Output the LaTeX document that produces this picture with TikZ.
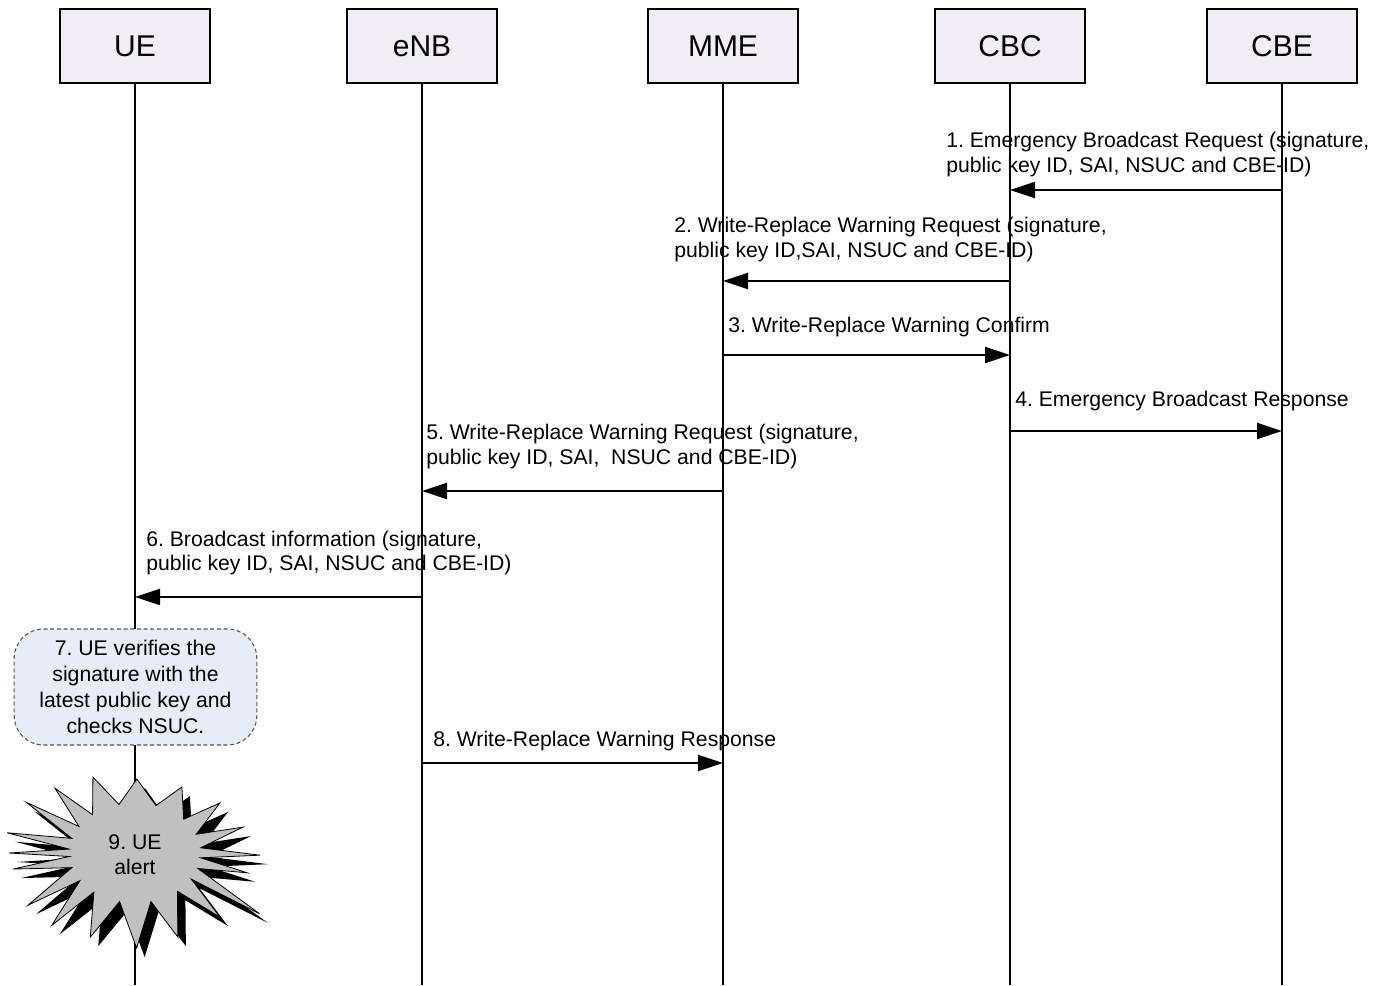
\documentclass[tikz,border=0pt]{standalone}
\usepackage{fontspec}
\setmainfont{Liberation Sans}
\usetikzlibrary{arrows.meta}
\definecolor{boxfill}{RGB}{240,238,244}
\definecolor{notefill}{RGB}{230,237,248}
\definecolor{notedraw}{RGB}{85,85,85}
\definecolor{burstgray}{RGB}{192,192,192}
\frenchspacing
\begin{document}
\begin{tikzpicture}[x=0.75pt,y=-0.75pt,
  entity/.style={draw=black, fill=boxfill, line width=1.5pt, minimum width=112.5pt,
    minimum height=55.5pt, inner sep=0pt, font=\fontsize{22.5}{27}\selectfont},
  life/.style={line width=1.5pt},
  msg/.style={line width=1.5pt, -{Triangle[length=18.75pt,width=12pt]}},
  lbl/.style={anchor=base west, inner sep=0pt, font=\fontsize{15.9}{19}\selectfont},
  note/.style={draw=notedraw, dash pattern=on 3pt off 2pt, line width=0.8pt, fill=notefill,
    rounded corners=22pt, minimum width=182pt, minimum height=87pt, inner sep=0pt,
    align=center, font=\fontsize{15.9}{19.3}\selectfont},
  burst/.pic={
    \begin{scope}[yscale=-1]
    \path[pic actions]
      (88.5:74) -- (104:66 and 50) -- (119:86.8) -- (130:66 and 50) -- (141:103)
      -- (148:66 and 50) -- (155:120) -- (163:66 and 50) -- (171:129.5)
      -- (175.5:66 and 50) -- (180:126) -- (184:66 and 50) -- (187.5:123)
      -- (197:66 and 50) -- (206:119) -- (213.5:66 and 50) -- (221:110.5)
      -- (231.5:66 and 50) -- (242:95.3) -- (256.5:66 and 50) -- (271:95)
      -- (284:66 and 50) -- (297:94.4) -- (310:66 and 50) -- (323:106.4)
      -- (328.5:66 and 50) -- (334:138.7) -- (342:66 and 50) -- (350:113.8)
      -- (354.5:66 and 50) -- (359:125) -- (6:66 and 50) -- (13.5:111)
      -- (22:66 and 50) -- (30.5:98.6) -- (42.5:66 and 50) -- (54.6:81)
      -- (71.5:66 and 50) -- cycle;
    \end{scope}
  }]
\useasboundingbox (0,0) rectangle (1387,985);
\fill[white] (0,0) rectangle (1387,985);

% entities
\node[entity] (UE)  at (135,46)  {UE};
\node[entity] (eNB) at (422,46)  {eNB};
\node[entity] (MME) at (723,46)  {MME};
\node[entity] (CBC) at (1010,46) {CBC};
\node[entity] (CBE) at (1282,46) {CBE};

\coordinate (bot) at (0,985);
\foreach \n in {UE,eNB,MME,CBC,CBE}
  \draw[life] (\n.south) -- (\n |- bot);

% message levels
\coordinate (y1) at (0,190);
\coordinate (y2) at (0,281);
\coordinate (y3) at (0,355);
\coordinate (y4) at (0,431);
\coordinate (y5) at (0,491);
\coordinate (y6) at (0,597);
\coordinate (y8) at (0,763);

\draw[msg] (CBE |- y1) -- (CBC |- y1);
\draw[msg] (CBC |- y2) -- (MME |- y2);
\draw[msg] (MME |- y3) -- (CBC |- y3);
\draw[msg] (CBC |- y4) -- (CBE |- y4);
\draw[msg] (MME |- y5) -- (eNB |- y5);
\draw[msg] (eNB |- y6) -- (UE |- y6);
\draw[msg] (eNB |- y8) -- (MME |- y8);

% labels
\node[lbl] (m1a) at (946,147) {1. Emergency Broadcast Request (signature,};
\node[lbl] (m1b) at (946,172) {public key ID, SAI, NSUC and CBE-ID)};
\node[lbl] (m2a) at (674,232) {2. Write-Replace Warning Request (signature,};
\node[lbl] (m2b) at (674,257) {public key ID,SAI, NSUC and CBE-ID)};
\node[lbl] (m3)  at (728,332) {3. Write-Replace Warning Confirm};
\node[lbl] (m4)  at (1015,406) {4. Emergency Broadcast Response};
\node[lbl] (m5a) at (426,439) {5. Write-Replace Warning Request (signature,};
\node[lbl] (m5b) at (426,464) {public key ID, SAI,\ \ NSUC and CBE-ID)};
\node[lbl] (m6a) at (146,546) {6. Broadcast information (signature,};
\node[lbl] (m6b) at (146,570) {public key ID, SAI, NSUC and CBE-ID)};
\node[lbl] (m8)  at (433,746) {8. Write-Replace Warning Response};

% note
\node[note] (n7) at (135.5,687) {7. UE verifies the\\signature with the\\latest public key and\\checks NSUC.};

% starburst
\pic[fill=black] at (143,862) {burst};
\pic[fill=burstgray, draw=black, line width=0.6pt] at (135,853) {burst};
\node[align=center, inner sep=0pt, font=\fontsize{15.9}{19}\selectfont] (n9) at (135,855) {9. UE\\alert};
\end{tikzpicture}
\end{document}
